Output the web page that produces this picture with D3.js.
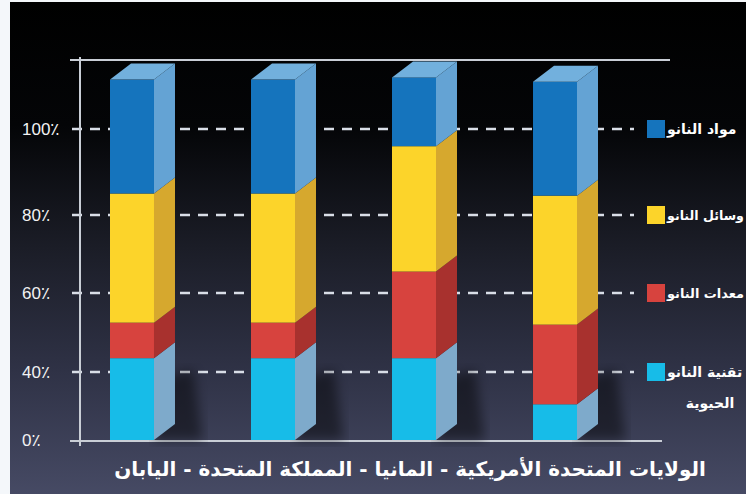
<!DOCTYPE html>
<html lang="ar">
<head>
<meta charset="UTF-8">
<title>Nano chart</title>
<script src="https://d3js.org/d3.v7.min.js"></script>
<style>
  body { margin: 0; background: #f4f7fa; }
  svg { display: block; }
  .tick-label { font-family: "Liberation Sans", "DejaVu Sans", sans-serif; font-size: 17px; fill: #f2f2f2; }
  .legend-label { font-family: "DejaVu Sans", sans-serif; font-weight: bold; font-size: 14px; fill: #ffffff; }
  .title { font-family: "DejaVu Sans", sans-serif; font-weight: bold; font-size: 18px; fill: #ffffff; }
</style>
</head>
<body>
<svg width="746" height="494"></svg>
<script>
// categories, left to right
const categories = ["اليابان", "المملكة المتحدة", "المانيا", "الولايات المتحدة الأمريكية"];
// series, bottom to top
const seriesNames = ["تقنية النانو الحيوية", "معدات النانو", "وسائل النانو", "مواد النانو"];
const bioValues = [43.5, 43.5, 43.5, 21];
const equipValues = [9, 9, 22, 31];
const deviceValues = [32.5, 32.5, 30.5, 32.5];
const materialValues = [26.5, 26.5, 16, 26.5];
const tickValues = [0, 40, 60, 80, 100];
const tickLabels = ["0٪", "40٪", "60٪", "80٪", "100٪"];

const frontColors = ["#17bce8", "#d7433e", "#fcd42a", "#1574bd"];
const sideColors = ["#7eaacb", "#a8312e", "#d6a82e", "#64a3d4"];
const topColor = "#72b0dd";

const svg = d3.select("svg");
const W = 746, H = 494;

// background
const defs = svg.append("defs");
const grad = defs.append("linearGradient").attr("id", "bg").attr("x1", 0).attr("y1", 0).attr("x2", 0).attr("y2", 1);
grad.append("stop").attr("offset", "0%").attr("stop-color", "#000000");
grad.append("stop").attr("offset", "25%").attr("stop-color", "#040507");
grad.append("stop").attr("offset", "50%").attr("stop-color", "#1b1d27");
grad.append("stop").attr("offset", "75%").attr("stop-color", "#2f3246");
grad.append("stop").attr("offset", "100%").attr("stop-color", "#464a64");
defs.append("filter").attr("id", "blur").append("feGaussianBlur").attr("stdDeviation", 6);

svg.append("rect").attr("x", 0).attr("y", 0).attr("width", W).attr("height", H).attr("fill", "#f4f7fa");
svg.append("rect").attr("x", 10).attr("y", 2).attr("width", W - 10).attr("height", H - 2).attr("fill", "url(#bg)");

// scales (the printed axis is not linear, so a piecewise scale follows it)
const y = d3.scaleLinear().domain(tickValues).range([440, 372, 293, 215, 129]);
const x = d3.scaleBand().domain(categories).range([110, 577]).paddingInner(0.688).paddingOuter(0);
const dx = 21, dy = -16;

// data
const rows = categories.map((c, i) => ({
  cat: c,
  s0: bioValues[i], s1: equipValues[i], s2: deviceValues[i], s3: materialValues[i]
}));
const keys = ["s0", "s1", "s2", "s3"];
const stacked = d3.stack().keys(keys)(rows);

// gridlines
svg.append("g").selectAll("line").data(tickValues.slice(1)).join("line")
  .attr("x1", 72).attr("x2", 634)
  .attr("y1", d => y(d)).attr("y2", d => y(d))
  .attr("stroke", "#d9dee7").attr("stroke-width", 2.5).attr("stroke-dasharray", "10,8");

// axis frame
svg.append("line").attr("x1", 80).attr("x2", 80).attr("y1", 57).attr("y2", 446)
  .attr("stroke", "#c9ced6").attr("stroke-width", 2);
svg.append("line").attr("x1", 70).attr("x2", 670).attr("y1", 60).attr("y2", 60)
  .attr("stroke", "#c9ced6").attr("stroke-width", 2);
svg.append("line").attr("x1", 70).attr("x2", 662).attr("y1", y(0) + 1).attr("y2", y(0) + 1)
  .attr("stroke", "#c9ced6").attr("stroke-width", 2);

// tick labels
svg.append("g").selectAll("text").data(tickValues).join("text")
  .attr("class", "tick-label")
  .attr("x", 22).attr("y", d => y(d) + 6)
  .text((d, i) => tickLabels[i]);

// shadows
svg.append("g").selectAll("path").data(categories).join("path")
  .attr("d", c => {
    const x0 = x(c) + x.bandwidth();
    return `M${x0},${y(0) - 60} L${x0 + dx + 18},${y(0) - 70} L${x0 + dx + 28},${y(0)} L${x0},${y(0)} Z`;
  })
  .attr("fill", "#000").attr("opacity", 0.45).attr("filter", "url(#blur)");

// bars
const bw = x.bandwidth();
stacked.forEach((layer, li) => {
  const g = svg.append("g");
  // side face
  g.selectAll("path.side").data(layer).join("path").attr("class", "side")
    .attr("d", d => {
      const x1 = x(d.data.cat) + bw;
      return `M${x1},${y(d[1])} L${x1 + dx},${y(d[1]) + dy} L${x1 + dx},${y(d[0]) + dy} L${x1},${y(d[0])} Z`;
    })
    .attr("fill", sideColors[li]);
  // front face
  g.selectAll("rect").data(layer).join("rect")
    .attr("x", d => x(d.data.cat))
    .attr("y", d => y(d[1]))
    .attr("width", bw)
    .attr("height", d => y(d[0]) - y(d[1]))
    .attr("fill", frontColors[li]);
});

// top faces
const topLayer = stacked[stacked.length - 1];
svg.append("g").selectAll("path").data(topLayer).join("path")
  .attr("d", d => {
    const x0 = x(d.data.cat), yt = y(d[1]);
    return `M${x0},${yt} L${x0 + dx},${yt + dy} L${x0 + bw + dx},${yt + dy} L${x0 + bw},${yt} Z`;
  })
  .attr("fill", topColor);

// legend, top to bottom
const legendOrder = [3, 2, 1, 0];
const legendY = [100, 80, 60, 40];
const leg = svg.append("g").selectAll("g").data(legendOrder).join("g")
  .attr("transform", (d, i) => `translate(647,${y(legendY[i])})`);
leg.append("rect").attr("x", 0).attr("y", -9).attr("width", 18).attr("height", 18)
  .attr("fill", d => frontColors[d]);

// shrink a label so it stays inside the page
function fit(t, maxW) {
  const w = t.node().getComputedTextLength();
  if (w > maxW) t.style("font-size", (14 * maxW / w).toFixed(2) + "px");
}
leg.each(function (d) {
  const g = d3.select(this);
  const name = seriesNames[d];
  if (d === 0) {
    const parts = ["تقنية النانو", "الحيوية"];
    fit(g.append("text").attr("class", "legend-label").attr("x", 20).attr("y", 5).text(parts[0]), 77);
    g.append("text").attr("class", "legend-label").attr("x", 63).attr("y", 36)
      .attr("text-anchor", "middle").text(parts[1]);
  } else {
    fit(g.append("text").attr("class", "legend-label").attr("x", 20).attr("y", 5).text(name), 77);
  }
});

// country line under the chart
const title = svg.append("text").attr("class", "title")
  .attr("x", 410).attr("y", 476).attr("text-anchor", "middle")
  .text(categories.slice().reverse().join(" - "));
const len = title.node().getComputedTextLength();
title.style("font-size", (18 * 592 / len).toFixed(2) + "px");
</script>
</body>
</html>
